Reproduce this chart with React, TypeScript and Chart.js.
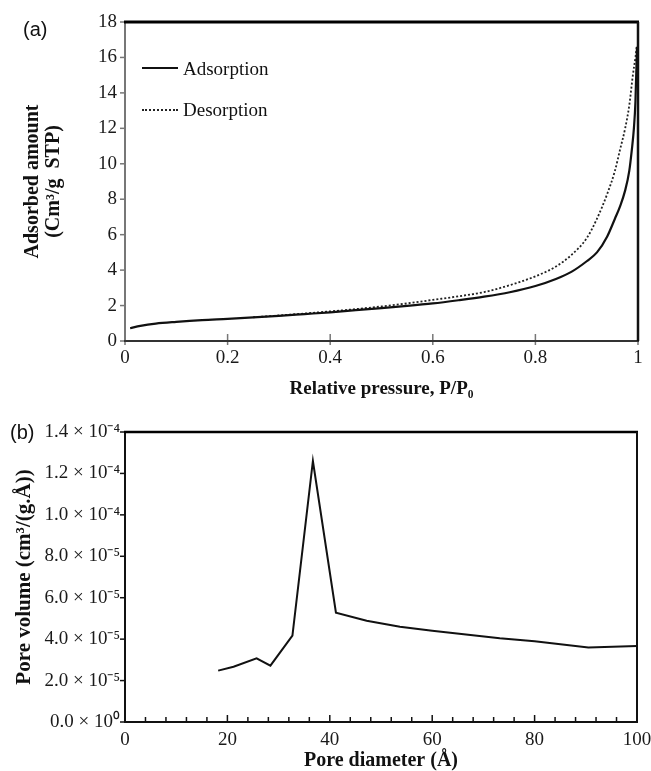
import React, { useEffect, useRef } from "react";
import { Chart, registerables } from "chart.js";

Chart.register(...registerables);

// ---- Data: (a) isotherm ----
const relPressureAds = [0.01, 0.03, 0.06, 0.1, 0.15, 0.2, 0.25, 0.3, 0.35, 0.4, 0.45, 0.5, 0.55, 0.6, 0.65, 0.7, 0.75, 0.8, 0.84, 0.87, 0.9, 0.92, 0.94, 0.955, 0.965, 0.975, 0.983, 0.988, 0.992, 0.995, 0.998];
const adsorptionAmount = [0.72, 0.85, 0.98, 1.08, 1.18, 1.25, 1.33, 1.42, 1.52, 1.62, 1.74, 1.86, 1.98, 2.12, 2.3, 2.5, 2.75, 3.1, 3.5, 3.9, 4.5, 5.0, 5.9, 6.9, 7.6, 8.5, 9.6, 10.8, 12.0, 13.5, 16.6];
const relPressureDes = [0.25, 0.3, 0.35, 0.4, 0.45, 0.5, 0.55, 0.6, 0.65, 0.7, 0.75, 0.8, 0.84, 0.87, 0.9, 0.92, 0.94, 0.955, 0.965, 0.975, 0.983, 0.99, 0.995, 0.998];
const desorptionAmount = [1.34, 1.44, 1.55, 1.67, 1.8, 1.95, 2.12, 2.32, 2.52, 2.76, 3.15, 3.65, 4.2, 4.85, 5.8, 6.9, 8.3, 9.6, 10.8, 12.0, 13.3, 15.0, 16.0, 16.7];

// ---- Data: (b) pore size distribution ----
const poreDiameter = [18.2, 21.2, 25.7, 28.4, 32.7, 36.7, 41.2, 47.2, 53.7, 60, 73.2, 80, 90.5, 100];
const poreVolume = [2.48e-5, 2.67e-5, 3.07e-5, 2.72e-5, 4.17e-5, 12.6e-5, 5.28e-5, 4.89e-5, 4.6e-5, 4.4e-5, 4.04e-5, 3.9e-5, 3.6e-5, 3.67e-5];
const volumeTickLabels = ["0.0 × 10⁰", "2.0 × 10⁻⁵", "4.0 × 10⁻⁵", "6.0 × 10⁻⁵", "8.0 × 10⁻⁵", "1.0 × 10⁻⁴", "1.2 × 10⁻⁴", "1.4 × 10⁻⁴"];

const SERIF = "'Liberation Serif', 'Times New Roman', serif";
Chart.defaults.font.family = SERIF;
Chart.defaults.color = "#1a1a1a";

const framePlugin = {
  id: "frame",
  afterDatasetsDraw(chart: any, _args: any, o: any) {
    const { ctx, chartArea: a, scales } = chart;
    const x = scales.x;
    const y = scales.y;
    ctx.save();
    ctx.lineCap = "butt";
    ctx.strokeStyle = o.yTickColor;
    ctx.lineWidth = 1.5;
    y.ticks.forEach((t: any) => {
      const py = y.getPixelForValue(t.value);
      ctx.beginPath();
      ctx.moveTo(a.left - o.yTickLen, py);
      ctx.lineTo(a.left, py);
      ctx.stroke();
    });
    ctx.strokeStyle = o.xTickColor;
    x.ticks.forEach((t: any) => {
      const px = x.getPixelForValue(t.value);
      const major = t.label !== "";
      const up = major ? o.xMajorUp : o.xMinorUp;
      const down = major ? o.xMajorDown : o.xMinorDown;
      ctx.beginPath();
      ctx.moveTo(px, a.bottom - up);
      ctx.lineTo(px, a.bottom + down);
      ctx.stroke();
    });
    const seg = (x1: number, y1: number, x2: number, y2: number, c: string, w: number) => {
      ctx.strokeStyle = c;
      ctx.lineWidth = w;
      ctx.beginPath();
      ctx.moveTo(x1, y1);
      ctx.lineTo(x2, y2);
      ctx.stroke();
    };
    seg(a.left, a.top, a.left, a.bottom + 1, o.leftColor, o.leftWidth);
    seg(a.left - 1, a.bottom, a.right + 1, a.bottom, o.bottomColor, o.bottomWidth);
    seg(a.left - 1, a.top, a.right + 1, a.top, o.topColor, o.topWidth);
    seg(a.right, a.top, a.right, a.bottom, o.rightColor, o.rightWidth);
    ctx.restore();
  },
};

const fixX = (h: number) => (s: any) => {
  s.height = h;
  s.paddingLeft = 0;
  s.paddingRight = 0;
};

function IsothermChart() {
  const ref = useRef<HTMLCanvasElement>(null);
  useEffect(() => {
    const chart = new Chart(ref.current as HTMLCanvasElement, {
      type: "line",
      data: {
        datasets: [
          {
            label: "Adsorption",
            data: relPressureAds.map((p, i) => ({ x: p, y: adsorptionAmount[i] })),
            borderColor: "#111",
            borderWidth: 2.2,
            pointRadius: 0,
            cubicInterpolationMode: "monotone",
            fill: false,
          },
          {
            label: "Desorption",
            data: relPressureDes.map((p, i) => ({ x: p, y: desorptionAmount[i] })),
            borderColor: "#222",
            borderWidth: 1.8,
            borderDash: [2, 2],
            pointRadius: 0,
            cubicInterpolationMode: "monotone",
            fill: false,
          },
        ],
      },
      options: {
        animation: false,
        responsive: false,
        layout: { padding: { left: 0, right: 13, top: 22, bottom: 0 } },
        plugins: {
          legend: { display: false },
          tooltip: { enabled: false },
          frame: {
            yTickColor: "#777", yTickLen: 5,
            xTickColor: "#777", xMajorUp: 7, xMajorDown: 4, xMinorUp: 4, xMinorDown: 0,
            leftColor: "#777", leftWidth: 2,
            bottomColor: "#333", bottomWidth: 2,
            topColor: "#000", topWidth: 3,
            rightColor: "#111", rightWidth: 2.5,
          },
        } as any,
        scales: {
          x: {
            type: "linear",
            min: 0,
            max: 1,
            afterFit: fixX(64),
            grid: { display: false, drawTicks: false },
            border: { display: false },
            ticks: {
              stepSize: 0.2,
              padding: 6,
              maxRotation: 0,
              font: { size: 19 },
              color: "#1a1a1a",
              callback: (v: any) => String(Math.round(v * 10) / 10),
            },
            title: {
              display: true,
              text: "Relative pressure, P/P₀",
              font: { size: 19, weight: "bold", lineHeight: 1.2 },
              color: "#111",
              padding: { top: 0, bottom: 5 },
            },
          },
          y: {
            type: "linear",
            min: 0,
            max: 18,
            afterFit: (s: any) => { s.width = 125; },
            grid: { display: false, drawTicks: false },
            border: { display: false },
            ticks: { stepSize: 2, padding: 8, font: { size: 19 }, color: "#1a1a1a" },
            title: {
              display: true,
              text: ["Adsorbed amount", "(Cm³/g  STP)"],
              font: { size: 20, weight: "bold", lineHeight: 1.05 },
              color: "#111",
              padding: { top: 22, bottom: 0 },
            },
          },
        },
      } as any,
      plugins: [framePlugin],
    });
    return () => chart.destroy();
  }, []);
  return (
    <canvas
      ref={ref}
      width={651}
      height={405}
      style={{ position: "absolute", left: 0, top: 0, width: 651, height: 405 }}
    />
  );
}

function PoreChart() {
  const ref = useRef<HTMLCanvasElement>(null);
  useEffect(() => {
    const chart = new Chart(ref.current as HTMLCanvasElement, {
      type: "line",
      data: {
        datasets: [
          {
            label: "Pore volume",
            data: poreDiameter.map((d, i) => ({ x: d, y: poreVolume[i] })),
            borderColor: "#111",
            borderWidth: 2,
            pointRadius: 0,
            tension: 0,
            fill: false,
          },
        ],
      },
      options: {
        animation: false,
        responsive: false,
        layout: { padding: { left: 0, right: 14, top: 27, bottom: 0 } },
        plugins: {
          legend: { display: false },
          tooltip: { enabled: false },
          frame: {
            yTickColor: "#111", yTickLen: 5,
            xTickColor: "#111", xMajorUp: 7, xMajorDown: 0, xMinorUp: 5, xMinorDown: 0,
            leftColor: "#111", leftWidth: 2,
            bottomColor: "#111", bottomWidth: 2,
            topColor: "#000", topWidth: 2.5,
            rightColor: "#111", rightWidth: 2,
          },
        } as any,
        scales: {
          x: {
            type: "linear",
            min: 0,
            max: 100,
            afterFit: fixX(49),
            grid: { display: false, drawTicks: false },
            border: { display: false },
            ticks: {
              stepSize: 4,
              autoSkip: false,
              maxRotation: 0,
              padding: 7,
              font: { size: 19 },
              color: "#1a1a1a",
              callback: (v: any) => (Math.round(v) % 20 === 0 ? String(Math.round(v)) : ""),
            },
            title: {
              display: true,
              text: "Pore diameter (Å)",
              font: { size: 20, weight: "bold", lineHeight: 1.0 },
              color: "#111",
              padding: { top: 0, bottom: 0 },
            },
          },
          y: {
            type: "linear",
            min: 0,
            max: 1.4e-4,
            afterFit: (s: any) => { s.width = 125; },
            grid: { display: false, drawTicks: false },
            border: { display: false },
            ticks: {
              stepSize: 2e-5,
              padding: 5,
              font: { size: 19 },
              color: "#1a1a1a",
              callback: (v: any) => volumeTickLabels[Math.round(v / 2e-5)],
            },
            title: {
              display: true,
              text: "Pore volume (cm³/(g.Å))",
              font: { size: 21, weight: "bold", lineHeight: 1.2 },
              color: "#111",
              padding: { top: 12, bottom: 0 },
            },
          },
        },
      } as any,
      plugins: [framePlugin],
    });
    return () => chart.destroy();
  }, []);
  return (
    <canvas
      ref={ref}
      width={651}
      height={366}
      style={{ position: "absolute", left: 0, top: 405, width: 651, height: 366 }}
    />
  );
}

const panelLabel: React.CSSProperties = {
  position: "absolute",
  fontFamily: "'Liberation Sans', Arial, sans-serif",
  fontSize: 20,
  lineHeight: "20px",
  color: "#111",
};

const legendText: React.CSSProperties = {
  position: "absolute",
  fontFamily: SERIF,
  fontSize: 19,
  lineHeight: "22px",
  color: "#111",
  whiteSpace: "nowrap",
};

export default function App() {
  return (
    <div style={{ position: "absolute", left: 0, top: 0, width: 651, height: 771, background: "#fff", overflow: "hidden" }}>
      <IsothermChart />
      <PoreChart />
      <div style={{ ...panelLabel, left: 23, top: 19 }}>(a)</div>
      <div style={{ ...panelLabel, left: 10, top: 422 }}>(b)</div>
      <div style={{ position: "absolute", left: 142, top: 67, width: 36, height: 2, background: "#111" }} />
      <div style={{ ...legendText, left: 183, top: 58 }}>Adsorption</div>
      <div style={{ position: "absolute", left: 142, top: 109, width: 36, height: 0, borderTop: "2px dotted #222" }} />
      <div style={{ ...legendText, left: 183, top: 99 }}>Desorption</div>
    </div>
  );
}
